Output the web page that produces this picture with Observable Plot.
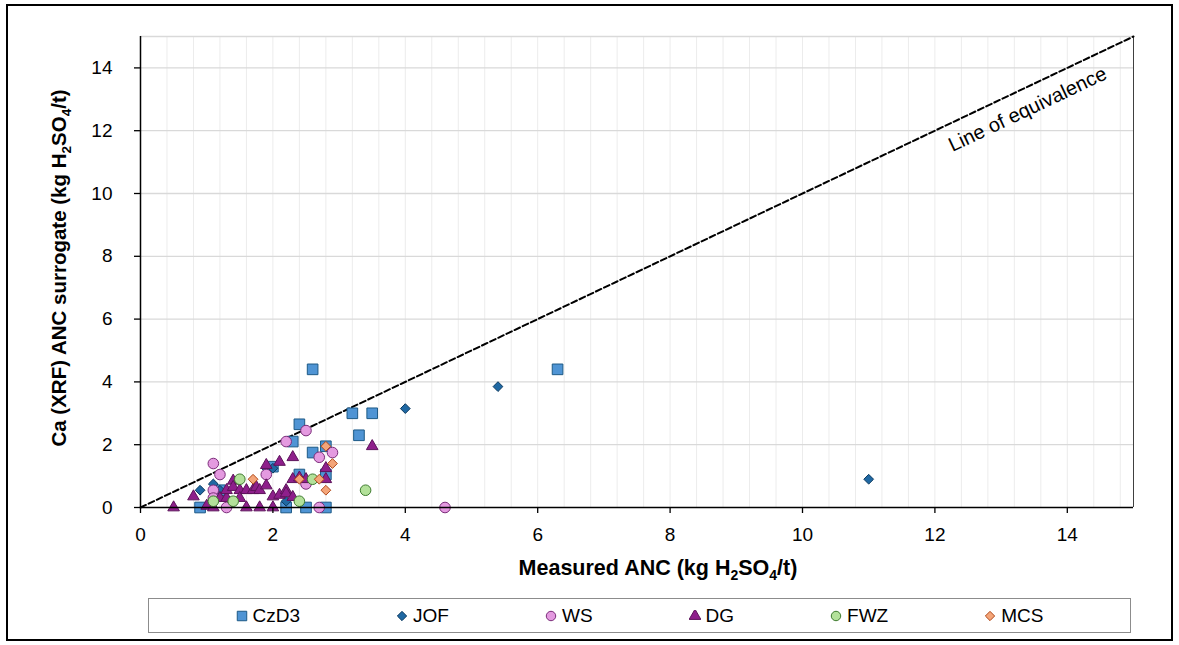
<!DOCTYPE html>
<html><head><meta charset="utf-8">
<script src="https://cdn.jsdelivr.net/npm/d3@7"></script>
<script src="https://cdn.jsdelivr.net/npm/@observablehq/plot@0.6"></script>
<style>
body{margin:0;background:#fff;font-family:"Liberation Sans",Arial,sans-serif;}
#frame{position:absolute;left:6px;top:4px;width:1163px;height:633px;border:2px solid #000;}
#chart{position:absolute;left:0;top:0;}
#legend{position:absolute;left:148px;top:598px;width:981px;height:33px;border:1.5px solid #8c8c8c;display:flex;justify-content:center;align-items:center;gap:96px;font-size:19px;color:#000;}
.item{display:flex;align-items:center;}
.item svg{margin-right:5px;}
</style></head><body>
<div id="frame"></div>
<div id="chart"></div>
<div id="legend"></div>
<script>
// ---- data ----
const seriesNames = ["CzD3","JOF","WS","DG","FWZ","MCS"];
const czd3X = [0.9, 1.2, 2.0, 2.2, 2.3, 2.4, 2.4, 2.5, 2.6, 2.6, 2.8, 2.8, 2.8, 3.2, 3.3, 3.5, 6.3];
const czd3Y = [0, 0.55, 1.3, 0, 2.1, 2.65, 1.05, 0, 4.4, 1.75, 1.95, 1.05, 0, 3.0, 2.3, 3.0, 4.4];
const jofX = [0.9, 1.1, 1.2, 1.9, 2.0, 2.2, 4.0, 5.4, 11.0];
const jofY = [0.55, 0.75, 0.55, 1.25, 1.25, 0.2, 3.15, 3.85, 0.9];
const wsX = [1.1, 1.2, 1.1, 1.1, 1.3, 1.9, 2.2, 2.5, 2.5, 2.7, 2.9, 2.7, 4.6];
const wsY = [1.4, 1.05, 0.55, 0.3, 0, 1.05, 2.1, 2.45, 0.75, 1.6, 1.75, 0, 0];
const dgX = [0.5, 0.8, 1.0, 1.1, 1.2, 1.3, 1.3, 1.4, 1.4, 1.5, 1.5, 1.6, 1.6, 1.7, 1.75, 1.8, 1.8, 1.9, 1.9, 2.0, 2.0, 2.1, 2.1, 2.2, 2.2, 2.3, 2.3, 2.3, 2.4, 2.5, 2.8, 2.8, 3.5];
const dgY = [0, 0.35, 0.05, 0, 0.3, 0.3, 0.55, 0.85, 0.65, 0.55, 0.3, 0.55, 0, 0.55, 0.65, 0.55, 0, 0.7, 1.35, 0.35, 0, 1.45, 0.4, 0.55, 0.45, 1.6, 0.9, 0.33, 0.95, 0.9, 1.25, 0.9, 1.95];
const fwzX = [1.1, 1.4, 1.5, 2.4, 2.6, 3.4];
const fwzY = [0.2, 0.2, 0.9, 0.2, 0.9, 0.55];
const mcsX = [1.7, 2.4, 2.7, 2.8, 2.8, 2.9];
const mcsY = [0.9, 0.9, 0.9, 0.55, 1.95, 1.4];
const equivalence = [0, 15];
const xTicks = [0, 2, 4, 6, 8, 10, 12, 14];
const yTicks = [0, 2, 4, 6, 8, 10, 12, 14];
const axisMax = 15;
const minorStep = 0.4;
const lineLabel = "Line of equivalence";
const lineLabelPos = [13.4, 12.68];

// ---- styles ----
const FONT = "'Liberation Sans', Arial, sans-serif";
const seriesStyle = {
  CzD3: {symbol: "square", r: 6, fill: "#4f94d4", stroke: "#1d5a86"},
  JOF:  {symbol: "diamond2", r: 4.4, fill: "#1f68a3", stroke: "#0c3a60"},
  WS:   {symbol: "circle", r: 5.3, fill: "#e49ae0", stroke: "#7b2c7a"},
  DG:   {symbol: "triangle", r: 4.3, fill: "#8e1f8b", stroke: "#5c135a"},
  FWZ:  {symbol: "circle", r: 5.3, fill: "#b3e19a", stroke: "#3d7a2e"},
  MCS:  {symbol: "diamond2", r: 4.4, fill: "#f4a579", stroke: "#b04a1c"}
};
const seriesData = {
  CzD3: czd3X.map((x, i) => ({x, y: czd3Y[i]})),
  JOF: jofX.map((x, i) => ({x, y: jofY[i]})),
  WS: wsX.map((x, i) => ({x, y: wsY[i]})),
  DG: dgX.map((x, i) => ({x, y: dgY[i]})),
  FWZ: fwzX.map((x, i) => ({x, y: fwzY[i]})),
  MCS: mcsX.map((x, i) => ({x, y: mcsY[i]}))
};
const minorGrid = d3.range(minorStep, axisMax - 1e-9, minorStep);

const plot = Plot.plot({
  width: 1179, height: 595,
  marginLeft: 140, marginRight: 46, marginTop: 36, marginBottom: 88,
  x: {domain: [0, axisMax]},
  y: {domain: [0, axisMax]},
  style: {fontFamily: FONT, fontSize: "18px", color: "#000", background: "transparent", overflow: "visible"},
  marks: [
    Plot.ruleX(minorGrid, {stroke: "#ececec", strokeWidth: 1}),
    Plot.ruleY(yTicks.slice(1).concat([axisMax]), {stroke: "#d9d9d9", strokeWidth: 1.3}),
    Plot.ruleX([axisMax], {stroke: "#404040", strokeWidth: 1}),
    Plot.line(equivalence.map(v => ({x: v, y: v})), {x: "x", y: "y", stroke: "#000", strokeWidth: 2, strokeDasharray: "6,3"}),
    Plot.text([lineLabel], {x: () => lineLabelPos[0], y: () => lineLabelPos[1], text: d => d, rotate: -25.4, fontSize: 20, fill: "#000", textAnchor: "middle", lineAnchor: "middle"}),
    ...seriesNames.map(s => Plot.dot(seriesData[s], {x: "x", y: "y", symbol: () => seriesStyle[s].symbol, r: seriesStyle[s].r, fill: seriesStyle[s].fill, stroke: seriesStyle[s].stroke, strokeWidth: 1})),
    Plot.ruleY([0], {stroke: "#000", strokeWidth: 1.5}),
    Plot.ruleX([0], {stroke: "#000", strokeWidth: 1.5}),
    Plot.axisX({ticks: xTicks, tickSize: 6, tickPadding: 14, label: null, fontSize: 19, stroke: "#000", strokeWidth: 1.3}),
    Plot.axisY({ticks: yTicks, tickSize: 6, tickPadding: 22, label: null, fontSize: 19, stroke: "#000", strokeWidth: 1.3})
  ]
});
document.getElementById("chart").appendChild(plot);

// axis titles with subscripts
const svg = d3.select(plot);
function subTitle(g, parts, subSize, shift) {
  let inSub = false;
  parts.forEach(([t, sub]) => {
    const ts = g.append("tspan").text(t);
    if (sub && !inSub) ts.attr("dy", shift);
    if (!sub && inSub) ts.attr("dy", -shift);
    if (sub) ts.attr("font-size", subSize);
    inSub = sub;
  });
}
const titleParts = (lead) => [[lead + " (kg H", false], ["2", true], ["SO", false], ["4", true], ["/t)", false]];
const xt = svg.append("text").attr("x", 658).attr("y", 575).attr("text-anchor", "middle")
  .attr("font-weight", "bold").attr("font-size", 21.5).attr("font-family", FONT).attr("fill", "#000");
subTitle(xt, titleParts("Measured ANC"), 14, 5);
const yt = svg.append("text").attr("transform", "translate(66,268) rotate(-90)").attr("text-anchor", "middle")
  .attr("font-weight", "bold").attr("font-size", 20.5).attr("font-family", FONT).attr("fill", "#000");
subTitle(yt, titleParts("Ca (XRF) ANC surrogate"), 13.5, 5);

// legend
const legend = d3.select("#legend");
seriesNames.forEach(s => {
  const st = seriesStyle[s];
  const item = legend.append("div").attr("class", "item");
  const sv = item.append("svg").attr("width", 12).attr("height", 12).attr("viewBox", "-6 -6 12 12");
  const sym = {square: d3.symbolSquare, circle: d3.symbolCircle, triangle: d3.symbolTriangle, diamond2: d3.symbolDiamond2}[st.symbol];
  const size = st.symbol === "square" ? 90 : st.symbol === "circle" ? 70 : st.symbol === "triangle" ? 60 : 55;
  sv.append("path").attr("d", d3.symbol(sym, size)()).attr("fill", st.fill).attr("stroke", st.stroke).attr("stroke-width", 1);
  item.append("span").text(s);
});
</script>
</body></html>
